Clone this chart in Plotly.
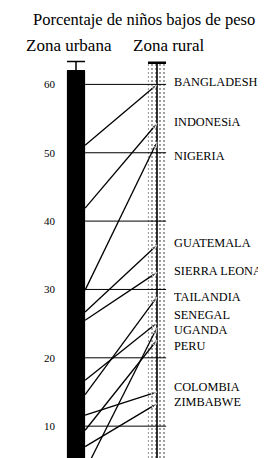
import plotly.graph_objects as go

# ---- data ----
title_text = "Porcentaje de niños bajos de peso"
zones = ["Zona urbana", "Zona rural"]
countries = ["BANGLADESH", "INDONESiA", "NIGERIA", "GUATEMALA", "SIERRA LEONA",
             "TAILANDIA", "SENEGAL", "UGANDA", "PERU", "COLOMBIA", "ZIMBABWE"]
urban = [51.1, 41.9, 29.9, 26.7, 25.5, 14.6, 16.7, 3.5, 9.4, 11.6, 7.0]
rural = [60.0, 54.3, 51.6, 36.5, 32.5, 28.9, 25.1, 24.4, 22.6, 15.0, 13.3]
label_pos = [60.4, 54.5, 49.5, 36.8, 32.7, 28.9, 26.3, 24.0, 21.7, 15.7, 13.6]
zone_top = [62.0, 63.1]
zone_cap = [1.35, 0.15]
tick_vals = [10, 20, 30, 40, 50, 60]

# ---- layout constants (page pixels; the page body adds an 8px offset) ----
OFF = 8
PAGE_W, PAGE_H = 266, 458
W, H = PAGE_W - OFF, PAGE_H - OFF
PLOT_LEFT, PLOT_TOP = 58, 55          # plot area edges in page pixels
ML, MT = PLOT_LEFT - OFF, PLOT_TOP - OFF
bar_w = 0.225
xpos = [0, 1]
serif = "Liberation Serif, Times New Roman, serif"

X0_PX, X_PER = 76, 81                 # page px of x=0, px per x unit
Y0_PX, Y_PER = 494.5, 6.835           # page px of y=0, px per y unit

def xdata(px):
    return (px - X0_PX) / X_PER

plot_h = PAGE_H - PLOT_TOP
def paper_y(py):
    return (PAGE_H - py) / plot_h

fig = go.Figure()

# urban bar (solid black)
fig.add_trace(go.Bar(
    x=[xpos[0]], y=[zone_top[0]], width=bar_w,
    marker=dict(color="black", line=dict(width=0)),
    error_y=dict(type="data", array=[zone_cap[0]], arrayminus=[0], symmetric=False,
                 color="black", thickness=1.5, width=9),
    showlegend=False, hoverinfo="skip"))

# rural bar (stippled)
fig.add_trace(go.Bar(
    x=[xpos[1]], y=[zone_top[1]], width=bar_w,
    marker=dict(color="white", line=dict(width=0),
                pattern=dict(shape=".", size=4, solidity=0.2,
                             fgcolor="black", bgcolor="white")),
    error_y=dict(type="data", array=[zone_cap[1]], arrayminus=[0], symmetric=False,
                 color="black", thickness=1.5, width=9),
    showlegend=False, hoverinfo="skip"))

# rural centre line
fig.add_trace(go.Scatter(
    x=[xpos[1], xpos[1]], y=[0, zone_top[1] + zone_cap[1]], mode="lines",
    line=dict(color="black", width=1.6), showlegend=False, hoverinfo="skip"))

# horizontal reference lines
for v in tick_vals:
    fig.add_shape(type="line", xref="x", yref="y",
                  x0=xpos[0] + bar_w / 2, x1=xpos[1] + bar_w / 2, y0=v, y1=v,
                  line=dict(color="black", width=1))

# country lines
for c, u, r in zip(countries, urban, rural):
    fig.add_trace(go.Scatter(
        x=[xpos[0] + bar_w / 2, xpos[1]], y=[u, r], mode="lines+markers",
        line=dict(color="black", width=1.3),
        marker=dict(symbol="arrow", angleref="previous", size=[0, 6], color="black"),
        showlegend=False, name=c))

# country labels
for c, p in zip(countries, label_pos):
    fig.add_annotation(x=xdata(173), y=p, xref="x", yref="y", text=c, showarrow=False,
                       xanchor="left", yanchor="middle", borderpad=0,
                       font=dict(family=serif, size=12.3, color="black"))

# zone headers
for z, px in zip(zones, [68.5, 168.5]):
    fig.add_annotation(x=xdata(px), y=paper_y(46), xref="x", yref="paper",
                       text=z, showarrow=False, xanchor="center", yanchor="middle",
                       font=dict(family=serif, size=17, color="black"))

# title
fig.add_annotation(x=xdata(143.5), y=paper_y(19), xref="x", yref="paper",
                   text=title_text, showarrow=False, xanchor="center", yanchor="middle",
                   font=dict(family=serif, size=16.5, color="black"))

x_left = xdata(PLOT_LEFT)
x_right = xdata(PAGE_W)
y_bottom = (Y0_PX - PAGE_H) / Y_PER
y_top = (Y0_PX - PLOT_TOP) / Y_PER

fig.update_layout(
    width=W, height=H,
    margin=dict(l=ML, r=0, t=MT, b=0, pad=0, autoexpand=False),
    paper_bgcolor="white", plot_bgcolor="white",
    barmode="overlay",
    xaxis=dict(range=[x_left, x_right], visible=False, fixedrange=True),
    yaxis=dict(range=[y_bottom, y_top], tickvals=tick_vals, automargin=False,
               showgrid=False, zeroline=False, showline=False, ticks="",
               tickfont=dict(family=serif, size=11, color="black"),
               ticklabelstandoff=2, fixedrange=True),
    showlegend=False,
)

fig.write_html("out.html")
